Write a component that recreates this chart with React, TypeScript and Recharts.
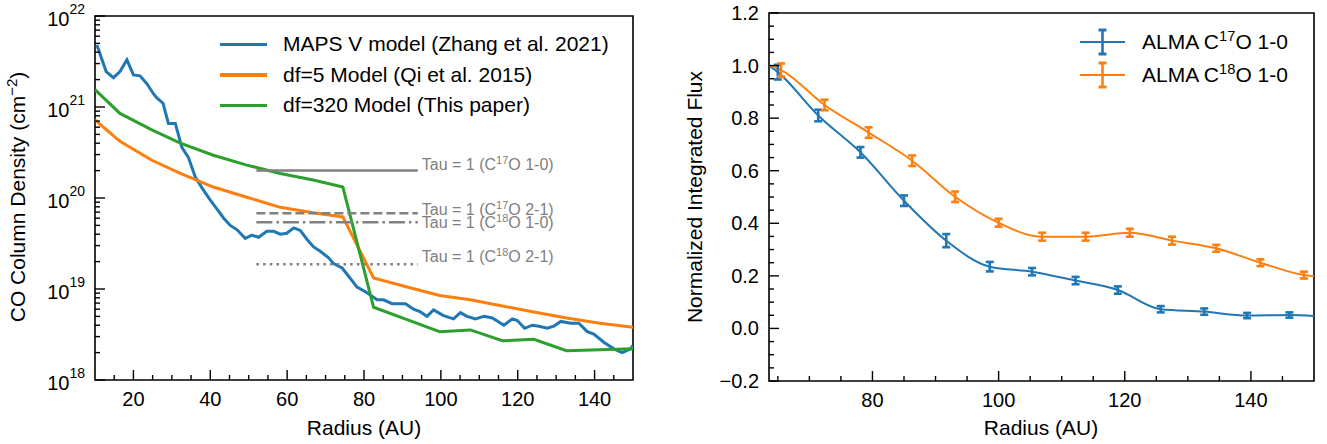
import React from 'react';
import {
  ComposedChart,
  Line,
  Scatter,
  XAxis,
  YAxis,
  ErrorBar,
  ReferenceArea,
  LabelList,
  Label,
} from 'recharts';

const FONT = '"Liberation Sans", Arial, sans-serif';
const BLUE = '#1f77b4';
const ORANGE = '#ff7f0e';
const GREEN = '#2ca02c';
const GREY = '#808080';

// ---- left panel: CO column density profiles ----
const mapsRadius = [
  10.5, 12.9, 14.8, 16.5, 18.3, 20, 21.7, 23.5, 25.2, 26.1, 27.7, 29.1, 30.9, 32.6, 34.3, 36.1, 37.8,
  40, 41.7, 43.5, 45.2, 46.9, 49.1, 50.8, 52.6, 54.7, 56.5, 58.2, 59.9, 61.7, 63.4, 65.2, 66.9, 68.6,
  70.8, 72.1, 74.3, 76, 78.2, 80.8, 83.4, 85.1, 87.3, 90.8, 92.9, 94.7, 96.4, 98.1, 100.7, 103.3,
  105.1, 106.8, 109, 111.2, 113.4, 116.4, 118.6, 119.9, 121.8, 123.8, 125.5, 127.7, 129.4, 131.2,
  133.8, 135.9, 138.1, 139.8, 142.4, 145, 147.2, 149.4, 150,
];
const mapsDensity = [
  4.8e21, 2.45e21, 2.1e21, 2.45e21, 3.3e21, 2.25e21, 2.2e21, 1.8e21, 1.4e21, 1.26e21, 1.1e21, 6.6e20,
  6.6e20, 3.6e20, 2.8e20, 1.7e20, 1.3e20, 9.5e19, 7.6e19, 6.0e19, 5.0e19, 4.5e19, 3.6e19, 3.9e19,
  3.7e19, 4.3e19, 4.3e19, 4.0e19, 4.1e19, 4.7e19, 4.4e19, 3.5e19, 2.9e19, 2.6e19, 2.2e19, 1.9e19,
  1.7e19, 1.38e19, 1.05e19, 9.1e18, 7.6e18, 7.6e18, 6.9e18, 6.9e18, 6.0e18, 5.6e18, 5.0e18, 5.9e18,
  5.1e18, 4.7e18, 5.5e18, 5.0e18, 4.7e18, 5.0e18, 4.8e18, 4.0e18, 4.7e18, 4.5e18, 3.7e18, 4.0e18,
  3.9e18, 3.7e18, 3.9e18, 4.4e18, 4.2e18, 4.2e18, 3.4e18, 3.2e18, 2.6e18, 2.2e18, 2.0e18, 2.2e18,
  2.4e18,
];
const modelRadius = [10, 16.5, 24.8, 32.2, 40.8, 49.5, 58.2, 66.8, 74.5, 82.5, 91.2, 99.7, 107.7, 116, 124.2, 132.7, 141.4, 150];
const qiDensity = [
  7.2e20, 4.2e20, 2.6e20, 1.86e20, 1.32e20, 1.02e20, 7.9e19, 6.9e19, 6.2e19, 1.32e19, 1.05e19, 8.5e18,
  7.6e18, 6.5e18, 5.6e18, 4.8e18, 4.2e18, 3.8e18,
];
const thisDensity = [
  1.55e21, 8.5e20, 5.6e20, 4.0e20, 2.95e20, 2.3e20, 1.86e20, 1.58e20, 1.32e20, 6.3e18, 4.6e18, 3.4e18,
  3.55e18, 2.7e18, 2.8e18, 2.1e18, 2.15e18, 2.2e18,
];

const tauRange = [52, 94];
const tauDensity = [2.0e20, 6.8e19, 5.4e19, 1.87e19];
const tauIsotope = ['17', '17', '18', '18'];
const tauTransition = ['1-0', '2-1', '1-0', '2-1'];
const tauDash = [undefined, '9 4', '16 4 2.5 4', '2.5 4.2'];
const tauLabelShift = [-1, 2, 6, -2];

const leftMajorX = [20, 40, 60, 80, 100, 120, 140];

// ---- right panel: normalized integrated flux ----
const c17Radius = [65, 71.4, 78.1, 85, 91.7, 98.6, 105.3, 112.2, 118.9, 125.7, 132.6, 139.4, 146.1];
const c17Flux = [0.975, 0.81, 0.67, 0.486, 0.334, 0.235, 0.216, 0.182, 0.146, 0.073, 0.064, 0.049, 0.051];
const c17Err = [0.028, 0.022, 0.02, 0.02, 0.025, 0.018, 0.014, 0.014, 0.014, 0.012, 0.012, 0.01, 0.01];
const c18Radius = [65.5, 72.4, 79.4, 86.3, 93.1, 100, 106.9, 113.8, 120.8, 127.5, 134.5, 141.5, 148.4];
const c18Flux = [0.983, 0.85, 0.745, 0.638, 0.501, 0.402, 0.349, 0.349, 0.364, 0.334, 0.305, 0.25, 0.203];
const c18Err = [0.025, 0.02, 0.02, 0.02, 0.02, 0.015, 0.015, 0.015, 0.015, 0.015, 0.013, 0.013, 0.013];
// curve ends at the frame edges
const curveEdges = [63.6, 150];
const c17EdgeFlux = [1.0, 0.047];
const c18EdgeFlux = [1.0, 0.198];

const rightMajorX = [80, 100, 120, 140];

const toPoints = (xs: number[], ys: number[]) => xs.map((x, i) => ({ x, y: ys[i] }));

const mapsData = toPoints(mapsRadius, mapsDensity);
const qiData = toPoints(modelRadius, qiDensity);
const thisData = toPoints(modelRadius, thisDensity);

const c17Points = c17Radius.map((x, i) => ({ x, y: c17Flux[i], err: c17Err[i] }));
const c18Points = c18Radius.map((x, i) => ({ x, y: c18Flux[i], err: c18Err[i] }));
const c17Curve = [{ x: curveEdges[0], y: c17EdgeFlux[0] }, ...toPoints(c17Radius, c17Flux), { x: curveEdges[1], y: c17EdgeFlux[1] }];
const c18Curve = [{ x: curveEdges[0], y: c18EdgeFlux[0] }, ...toPoints(c18Radius, c18Flux), { x: curveEdges[1], y: c18EdgeFlux[1] }];

// tick positions (minor ticks every 5 AU, log minor ticks, 0.05 flux steps)
const leftXTicks: number[] = [];
for (let r = 15; r <= 145; r += 5) leftXTicks.push(r);
const leftYTicks: number[] = [];
for (let e = 18; e < 22; e++) for (let k = 1; k < 10; k++) leftYTicks.push(k * Math.pow(10, e));
leftYTicks.push(1e22);
const rightXTicks: number[] = [];
for (let r = 65; r <= 145; r += 5) rightXTicks.push(r);
const rightYTicks: number[] = [];
for (let k = -4; k <= 24; k++) rightYTicks.push(Math.round(k * 5) / 100);

const MAJOR = 10;
const MINOR = 5;
const TICK_FONT = 20;
const TEXT_FONT = 21;

const BottomTick = (props: any) => {
  const { x, payload, bottom, majors } = props;
  const isMajor = majors.includes(payload.value);
  return (
    <g>
      <line x1={x} x2={x} y1={bottom} y2={bottom - (isMajor ? MAJOR : MINOR)} stroke="#000" strokeWidth={1.4} />
      {isMajor && (
        <text x={x} y={bottom + 26} textAnchor="middle" fontSize={TICK_FONT} fontFamily={FONT} fill="#000">
          {payload.value}
        </text>
      )}
    </g>
  );
};

const LogTick = (props: any) => {
  const { y, payload, left } = props;
  const v = payload.value;
  const exp = Math.round(Math.log10(v));
  const isMajor = Math.abs(v / Math.pow(10, exp) - 1) < 1e-6;
  return (
    <g>
      <line x1={left} x2={left + (isMajor ? MAJOR : MINOR)} y1={y} y2={y} stroke="#000" strokeWidth={1.4} />
      {isMajor && (
        <text x={left - 10} y={y + 10} textAnchor="end" fontSize={TICK_FONT} fontFamily={FONT} fill="#000">
          10
          <tspan dy={-12} fontSize={14}>
            {exp}
          </tspan>
        </text>
      )}
    </g>
  );
};

const FluxTick = (props: any) => {
  const { y, payload, left } = props;
  const v = payload.value;
  const isMajor = Math.round(v * 100) % 20 === 0;
  return (
    <g>
      <line x1={left} x2={left + (isMajor ? MAJOR : MINOR)} y1={y} y2={y} stroke="#000" strokeWidth={1.4} />
      {isMajor && (
        <text x={left - 10} y={y + 7} textAnchor="end" fontSize={TICK_FONT} fontFamily={FONT} fill="#000">
          {v.toFixed(1).replace('-', '\u2212')}
        </text>
      )}
    </g>
  );
};

const TauLabel = ({ x, y, i }: any) => (
  <text x={x + 4} y={y + tauLabelShift[i]} fontSize={16} fontFamily={FONT} fill={GREY}>
    Tau = 1 (C
    <tspan dy={-6} fontSize={11}>
      {tauIsotope[i]}
    </tspan>
    <tspan dy={6}>O {tauTransition[i]})</tspan>
  </text>
);

const leftLegend = [
  { color: BLUE, text: 'MAPS V model (Zhang et al. 2021)' },
  { color: ORANGE, text: 'df=5 Model (Qi et al. 2015)' },
  { color: GREEN, text: 'df=320 Model (This paper)' },
];
const rightLegend = [
  { color: BLUE, iso: '17' },
  { color: ORANGE, iso: '18' },
];

const sup = { fontSize: '0.7em', verticalAlign: '0.55em', lineHeight: 0 };

const DensityPanel = () => (
  <div style={{ position: 'absolute', left: 0, top: 0 }}>
    <ComposedChart width={660} height={444} margin={{ top: 16, right: 27, bottom: 0, left: 0 }}>
      <XAxis
        dataKey="x"
        type="number"
        domain={[10, 150]}
        allowDataOverflow
        ticks={leftXTicks}
        interval={0}
        height={64}
        axisLine={false}
        tickLine={false}
        tick={(p: any) => <BottomTick {...p} bottom={380} majors={leftMajorX} />}
      >
        <Label
          content={() => (
            <text x={364} y={435} textAnchor="middle" fontSize={TEXT_FONT} fontFamily={FONT} fill="#000">
              Radius (AU)
            </text>
          )}
        />
      </XAxis>
      <YAxis
        dataKey="y"
        type="number"
        scale="log"
        domain={[1e18, 1e22]}
        allowDataOverflow
        ticks={leftYTicks}
        interval={0}
        width={95}
        axisLine={false}
        tickLine={false}
        tick={(p: any) => <LogTick {...p} left={95} />}
      >
        <Label
          content={() => (
            <text transform="translate(25,197) rotate(-90)" textAnchor="middle" fontSize={TEXT_FONT} fontFamily={FONT} fill="#000">
              CO Column Density (cm
              <tspan dy={-8} fontSize={15}>
                {'\u2212'}2
              </tspan>
              <tspan dy={8}>)</tspan>
            </text>
          )}
        />
      </YAxis>
      <Line data={mapsData} dataKey="y" stroke={BLUE} strokeWidth={3} dot={false} isAnimationActive={false} type="linear" />
      <Line data={qiData} dataKey="y" stroke={ORANGE} strokeWidth={3} dot={false} isAnimationActive={false} type="linear" />
      <Line data={thisData} dataKey="y" stroke={GREEN} strokeWidth={3} dot={false} isAnimationActive={false} type="linear" />
      {tauDensity.map((d, i) => (
        <Line
          key={'tau' + i}
          data={[
            { x: tauRange[0], y: d },
            { x: tauRange[1], y: d },
          ]}
          dataKey="y"
          stroke={GREY}
          strokeWidth={2.5}
          strokeDasharray={tauDash[i]}
          dot={false}
          isAnimationActive={false}
        >
          <LabelList
            dataKey="y"
            content={(p: any) => (p.index === 1 ? <TauLabel x={Number(p.x)} y={Number(p.y)} i={i} /> : null)}
          />
        </Line>
      ))}
      <ReferenceArea x1={10} x2={150} y1={1e18} y2={1e22} fill="none" stroke="#000" strokeWidth={1.6} ifOverflow="visible" />
    </ComposedChart>
    <div style={{ position: 'absolute', left: 220, top: 29, fontFamily: FONT, fontSize: TEXT_FONT, color: '#000' }}>
      {leftLegend.map((e) => (
        <div key={e.text} style={{ display: 'flex', alignItems: 'center', height: 30.5, whiteSpace: 'nowrap' }}>
          <div style={{ width: 47, height: 3.5, background: e.color, marginRight: 16 }} />
          <span>{e.text}</span>
        </div>
      ))}
    </div>
  </div>
);

const FluxPanel = () => (
  <div style={{ position: 'absolute', left: 680, top: 0 }}>
    <ComposedChart width={647} height={444} margin={{ top: 13, right: 13, bottom: 0, left: 0 }}>
      <XAxis
        dataKey="x"
        type="number"
        domain={[63.6, 150]}
        allowDataOverflow
        ticks={rightXTicks}
        interval={0}
        height={63}
        axisLine={false}
        tickLine={false}
        tick={(p: any) => <BottomTick {...p} bottom={381} majors={rightMajorX} />}
      >
        <Label
          content={() => (
            <text x={361} y={435} textAnchor="middle" fontSize={TEXT_FONT} fontFamily={FONT} fill="#000">
              Radius (AU)
            </text>
          )}
        />
      </XAxis>
      <YAxis
        dataKey="y"
        type="number"
        domain={[-0.2, 1.2]}
        allowDataOverflow
        ticks={rightYTicks}
        interval={0}
        width={89}
        axisLine={false}
        tickLine={false}
        tick={(p: any) => <FluxTick {...p} left={89} />}
      >
        <Label
          content={() => (
            <text transform="translate(22,197) rotate(-90)" textAnchor="middle" fontSize={TEXT_FONT} fontFamily={FONT} fill="#000">
              Normalized Integrated Flux
            </text>
          )}
        />
      </YAxis>
      <Line data={c17Curve} dataKey="y" stroke={BLUE} strokeWidth={2} dot={false} isAnimationActive={false} type="monotone" />
      <Line data={c18Curve} dataKey="y" stroke={ORANGE} strokeWidth={2} dot={false} isAnimationActive={false} type="monotone" />
      <Scatter data={c17Points} dataKey="y" fill={BLUE} shape={() => <g />} isAnimationActive={false}>
        <ErrorBar dataKey="err" direction="y" width={4} strokeWidth={2.6} stroke={BLUE} />
      </Scatter>
      <Scatter data={c18Points} dataKey="y" fill={ORANGE} shape={() => <g />} isAnimationActive={false}>
        <ErrorBar dataKey="err" direction="y" width={4} strokeWidth={2.6} stroke={ORANGE} />
      </Scatter>
      <ReferenceArea x1={63.6} x2={150} y1={-0.2} y2={1.2} fill="none" stroke="#000" strokeWidth={1.6} ifOverflow="visible" />
    </ComposedChart>
    <div style={{ position: 'absolute', left: 400, top: 25.5, fontFamily: FONT, fontSize: TEXT_FONT, color: '#000' }}>
      {rightLegend.map((e) => (
        <div key={e.iso} style={{ display: 'flex', alignItems: 'center', height: 33, whiteSpace: 'nowrap' }}>
          <svg width={45} height={30} style={{ marginRight: 17 }}>
            <line x1={0} x2={45} y1={15} y2={15} stroke={e.color} strokeWidth={2} />
            <line x1={22.5} x2={22.5} y1={3} y2={27} stroke={e.color} strokeWidth={2.6} />
            <line x1={18.5} x2={26.5} y1={3} y2={3} stroke={e.color} strokeWidth={3} />
            <line x1={18.5} x2={26.5} y1={27} y2={27} stroke={e.color} strokeWidth={3} />
          </svg>
          <span>
            ALMA C<span style={sup}>{e.iso}</span>O 1-0
          </span>
        </div>
      ))}
    </div>
  </div>
);

export default function App() {
  return (
    <div style={{ position: 'absolute', left: 0, top: 0, width: 1327, height: 444, background: '#fff', fontFamily: FONT }}>
      <DensityPanel />
      <FluxPanel />
    </div>
  );
}
